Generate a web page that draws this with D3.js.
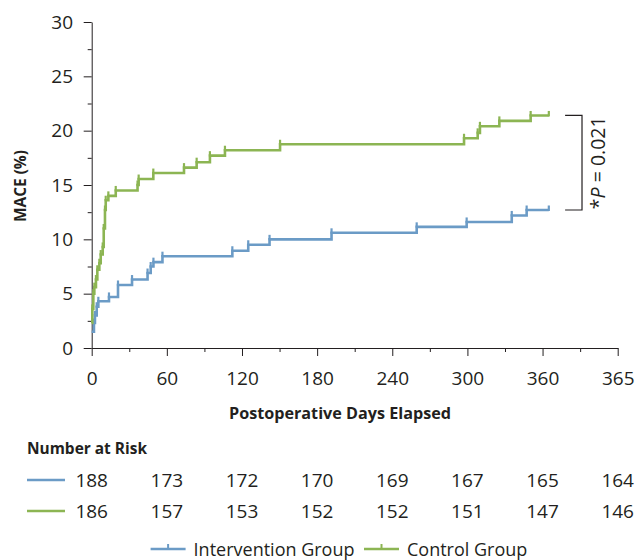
<!DOCTYPE html>
<html>
<head>
<meta charset="utf-8">
<script src="https://d3js.org/d3.v7.min.js"></script>
<style>
  body { margin: 0; background: #fff; }
  svg { display: block; font-family: "Open Sans", sans-serif; }
</style>
</head>
<body>
<div id="chart"></div>
<script>
// Kaplan-Meier style cumulative MACE (%)
const interventionDays = [0, 1.8, 2.6, 4.0, 5.3, 13.8, 21.0, 32.2, 44.6, 47.1, 49.3, 56.5, 112.3, 125, 142, 191.5, 259.5, 299.4, 335.4, 347.3];
const interventionMACE = [1.5, 2.3, 3.0, 3.8, 4.3, 4.7, 5.8, 6.3, 6.9, 7.5, 7.9, 8.45, 8.95, 9.5, 10.0, 10.6, 11.15, 11.6, 12.2, 12.7];
const controlDays = [0, 0.5, 1.3, 2.1, 3.4, 4.5, 6.1, 7.2, 8.8, 9.6, 10.6, 11.2, 13.3, 19.2, 36.6, 37.5, 49.2, 73.7, 83.8, 94.4, 106.4, 150.4, 297.3, 308.2, 310, 325.5, 350.5];
const controlMACE = [2.3, 3.6, 5.0, 5.6, 6.3, 7.2, 7.8, 8.6, 9.3, 11.0, 12.7, 13.6, 14.0, 14.5, 15.0, 15.55, 16.1, 16.6, 17.1, 17.7, 18.2, 18.75, 19.3, 19.8, 20.4, 20.9, 21.4];
const followUpEnd = 365;

const xTickValues = [0, 60, 120, 180, 240, 300, 360, 420];
const xTickLabels = ["0", "60", "120", "180", "240", "300", "360", "365"];
const yTickValues = [0, 5, 10, 15, 20, 25, 30];

const interventionRisk = [188, 173, 172, 170, 169, 167, 165, 164];
const controlRisk = [186, 157, 153, 152, 152, 151, 147, 146];

const seriesNames = ["Intervention Group", "Control Group"];
const pValueText = "0.021";

const width = 635, height = 560;
const blue = "#6b9bc6", green = "#8cb553", ink = "#231f20";

const x = d3.scaleLinear().domain([0, 420]).range([91.7, 617.7]);
const y = d3.scaleLinear().domain([0, 30]).range([348, 22]);

const svg = d3.select("#chart").append("svg")
    .attr("width", width)
    .attr("height", height);

// axes
svg.append("g")
    .attr("transform", `translate(${x(0)},0)`)
    .call(d3.axisLeft(y).tickValues(yTickValues).tickSize(8).tickSizeOuter(0).tickPadding(10.7));
svg.append("g")
    .attr("transform", `translate(${x(0)},0)`)
    .call(d3.axisLeft(y).tickValues(d3.range(2.5, 30, 5)).tickSize(4).tickFormat(""))
    .select(".domain").remove();

svg.append("g")
    .attr("transform", `translate(0,${y(0)})`)
    .call(d3.axisBottom(x).tickValues(xTickValues).tickSize(8).tickSizeOuter(0).tickPadding(15.5)
        .tickFormat((d, i) => xTickLabels[i]));
svg.append("g")
    .attr("transform", `translate(0,${y(0)})`)
    .call(d3.axisBottom(x).tickValues(d3.range(30, 420, 60)).tickSize(4).tickFormat(""))
    .select(".domain").remove();

svg.selectAll(".domain, .tick line").attr("stroke", ink).attr("stroke-width", 1);
svg.selectAll(".tick text")
    .attr("fill", ink)
    .attr("font-size", 19)
    .attr("font-family", "Open Sans, sans-serif");

// axis titles
svg.append("text")
    .attr("x", 340).attr("y", 419)
    .attr("text-anchor", "middle")
    .attr("font-size", 16).attr("font-weight", 700).attr("fill", ink)
    .attr("textLength", 222).attr("lengthAdjust", "spacingAndGlyphs")
    .text("Postoperative Days Elapsed");

svg.append("text")
    .attr("transform", `translate(26,${(y(0) + y(30)) / 2 + 1}) rotate(-90)`)
    .attr("text-anchor", "middle")
    .attr("font-size", 16).attr("font-weight", 700).attr("fill", ink)
    .attr("textLength", 72).attr("lengthAdjust", "spacingAndGlyphs")
    .text("MACE (%)");

// curves
const line = d3.line()
    .x(d => x(d[0]))
    .y(d => y(d[1]))
    .curve(d3.curveStepAfter);

function drawSeries(days, values, color) {
    const pts = days.map((d, i) => [d, values[i]]);
    pts.push([followUpEnd, values[values.length - 1]]);
    const g = svg.append("g");
    g.append("path")
        .attr("d", line(pts))
        .attr("fill", "none")
        .attr("stroke", color)
        .attr("stroke-width", 2.6);
    // censor marks at each step and at the end of follow-up
    g.selectAll("line")
        .data(pts.slice(1))
        .join("line")
        .attr("x1", d => x(d[0])).attr("x2", d => x(d[0]))
        .attr("y1", d => y(d[1]) + 1)
        .attr("y2", d => y(d[1]) - 4.5)
        .attr("stroke", color)
        .attr("stroke-width", 2.2);
}
drawSeries(interventionDays, interventionMACE, blue);
drawSeries(controlDays, controlMACE, green);

// P-value bracket
const topY = y(controlMACE[controlMACE.length - 1]);
const botY = y(interventionMACE[interventionMACE.length - 1]);
const bx0 = x(378), bx1 = x(391.5);
svg.append("path")
    .attr("d", `M${bx0},${topY}H${bx1}V${botY}H${bx0}`)
    .attr("fill", "none")
    .attr("stroke", ink)
    .attr("stroke-width", 1.2);
const pText = svg.append("text")
    .attr("transform", `translate(${bx1 + 23},${(topY + botY) / 2}) rotate(-90)`)
    .attr("text-anchor", "middle")
    .attr("font-size", 19.5).attr("fill", ink);
pText.append("tspan").text("*");
pText.append("tspan").attr("font-style", "italic").text("P");
pText.append("tspan").text(" = " + pValueText);

// number at risk table
svg.append("text")
    .attr("x", 27).attr("y", 454)
    .attr("font-size", 16).attr("font-weight", 700).attr("fill", ink)
    .attr("textLength", 120).attr("lengthAdjust", "spacingAndGlyphs")
    .text("Number at Risk");

const rows = [
    { values: interventionRisk, color: blue, cy: 480 },
    { values: controlRisk, color: green, cy: 511 }
];
rows.forEach(r => {
    svg.append("line")
        .attr("x1", 27).attr("x2", 65)
        .attr("y1", r.cy).attr("y2", r.cy)
        .attr("stroke", r.color).attr("stroke-width", 2.6);
    svg.append("g")
        .selectAll("text")
        .data(r.values)
        .join("text")
        .attr("x", (d, i) => x(xTickValues[i]))
        .attr("y", r.cy + 7)
        .attr("text-anchor", "middle")
        .attr("font-size", 19).attr("fill", ink)
        .text(d => d);
});

// legend
const legend = svg.append("g");
const legendItems = [
    { name: seriesNames[0], color: blue, x0: 150.6 },
    { name: seriesNames[1], color: green, x0: 364 }
];
legendItems.forEach(it => {
    const ly = 549;
    legend.append("line")
        .attr("x1", it.x0).attr("x2", it.x0 + 35)
        .attr("y1", ly).attr("y2", ly)
        .attr("stroke", it.color).attr("stroke-width", 2.6);
    legend.append("line")
        .attr("x1", it.x0 + 17.5).attr("x2", it.x0 + 17.5)
        .attr("y1", ly).attr("y2", ly - 5)
        .attr("stroke", it.color).attr("stroke-width", 2);
    legend.append("text")
        .attr("x", it.x0 + 43).attr("y", ly + 7)
        .attr("font-size", 18).attr("fill", ink)
        .text(it.name);
});
</script>
</body>
</html>
